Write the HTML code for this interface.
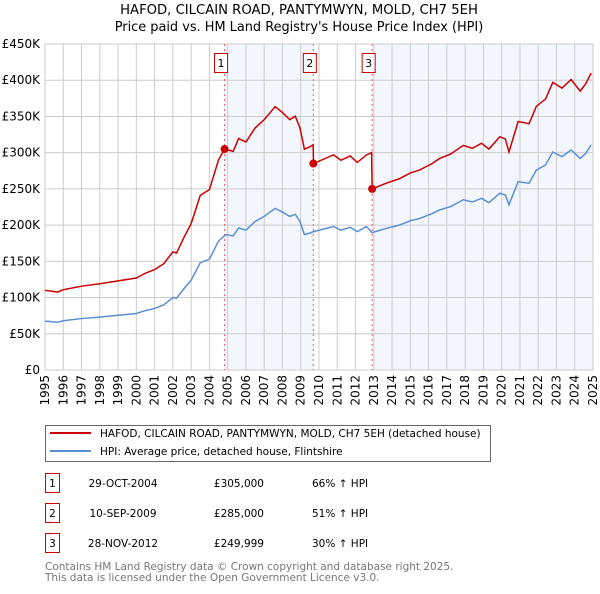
<!DOCTYPE html>
<html><head><meta charset="utf-8"><style>
body{margin:0;background:#fff;width:600px;height:590px;overflow:hidden;font-family:"DejaVu Sans","Liberation Sans",sans-serif;}
svg text{font-family:"DejaVu Sans","Liberation Sans",sans-serif;}
</style></head><body>
<svg id="chart" width="600" height="590" xmlns="http://www.w3.org/2000/svg">
<text x="299" y="14" text-anchor="middle" font-size="13.2">HAFOD, CILCAIN ROAD, PANTYMWYN, MOLD, CH7 5EH</text>
<text x="299" y="31" text-anchor="middle" font-size="12.9">Price paid vs. HM Land Registry's House Price Index (HPI)</text>
<g id="plot"></g>
<g>
<rect x="45.5" y="425.5" width="445" height="36" fill="#fff" stroke="#666"/>
<line x1="50" y1="433" x2="91" y2="433" stroke="#cc0000" stroke-width="2"/>
<text x="100" y="437" font-size="10.5">HAFOD, CILCAIN ROAD, PANTYMWYN, MOLD, CH7 5EH (detached house)</text>
<line x1="50" y1="451" x2="91" y2="451" stroke="#5b8fd4" stroke-width="2"/>
<text x="100" y="455" font-size="10.5">HPI: Average price, detached house, Flintshire</text>
</g>
<g id="table" font-size="10.5"></g>
<text x="45" y="570" font-size="10.5" fill="#777">Contains HM Land Registry data © Crown copyright and database right 2025.</text>
<text x="45" y="581" font-size="10.5" fill="#777">This data is licensed under the Open Government Licence v3.0.</text>
</svg>
<script>
const hpiYears=[1995.0,1995.7,1996.0,1997,1998,1999,2000,2000.5,2001,2001.5,2002,2002.2,2002.6,2003,2003.5,2004,2004.5,2004.9,2005.3,2005.6,2006,2006.5,2007,2007.6,2008,2008.4,2008.7,2008.96,2009.2,2009.5,2009.7,2010.8,2011.2,2011.7,2012.1,2012.6,2012.9,2013.7,2014.4,2015,2015.5,2016.2,2016.6,2017.2,2017.9,2018.4,2018.9,2019.3,2019.9,2020.2,2020.4,2020.9,2021.5,2021.9,2022.4,2022.8,2023.3,2023.8,2024.3,2024.6,2024.9];
const hpiValues=[67.5,66,68,71,73,75.5,78,82,85,90,100,99,112,124,148,153,178,187,185,196,193,205,212,223,218,212,215,205,187,189,191,198,193,197,191,198,189.6,195.6,200,206,209,216,221,225.5,235,232,237,231,244,241.6,228,260,257.7,276,283,301,294.5,303.7,292,299,310.6];
const priceYears=[1995.0,1995.7,1996.0,1997,1998,1999,2000,2000.5,2001,2001.5,2002,2002.2,2002.6,2003,2003.5,2004,2004.5,2004.83,2005.3,2005.6,2006,2006.5,2007,2007.6,2008,2008.4,2008.7,2008.96,2009.2,2009.5,2009.68,2009.7,2010.8,2011.2,2011.7,2012.1,2012.6,2012.88,2012.91,2013.7,2014.4,2015,2015.5,2016.2,2016.6,2017.2,2017.9,2018.4,2018.9,2019.3,2019.9,2020.2,2020.4,2020.9,2021.5,2021.9,2022.4,2022.8,2023.3,2023.8,2024.3,2024.6,2024.9];
const priceValues=[110,107.6,110.8,115.7,119,123,127,133.7,138.6,146.7,163,161.4,182.6,202,241,249,290,305,301.6,319.5,314.6,334,345.6,363.5,355.3,345.6,350.5,334,304.8,308,311,285,297,289.5,295.5,286.5,297,300,250,258,264,272,276,285,292,298,310,306,313,305,322,319,301,343,340,364,374,397,389,401,385,395,410];
const saleYears=[2004.83,2009.69,2012.91];
const salePrices=[305,285,250];
const saleLabels=["1","2","3"];
const saleDates=["29-OCT-2004","10-SEP-2009","28-NOV-2012"];
const salePriceText=["£305,000","£285,000","£249,999"];
const saleHpiText=["66% ↑ HPI","51% ↑ HPI","30% ↑ HPI"];
const yTicks=[0,50,100,150,200,250,300,350,400,450];
const yTickLabels=["£0","£50K","£100K","£150K","£200K","£250K","£300K","£350K","£400K","£450K"];
const xTicks=[1995,1996,1997,1998,1999,2000,2001,2002,2003,2004,2005,2006,2007,2008,2009,2010,2011,2012,2013,2014,2015,2016,2017,2018,2019,2020,2021,2022,2023,2024,2025];

const NS="http://www.w3.org/2000/svg";
const X0=45,X1=593,Y0=370,Y1=44;
const xs=y=>X0+(y-1995)/30*(X1-X0);
const ys=v=>Y0-v/450*(Y0-Y1);
const plot=document.getElementById('plot');
function mk(tag,attrs,parent){const e=document.createElementNS(NS,tag);for(const k in attrs)e.setAttribute(k,attrs[k]);(parent||plot).appendChild(e);return e;}
const sh1=mk('rect',{x:xs(saleYears[0]),y:Y1,width:xs(saleYears[1])-xs(saleYears[0]),height:Y0-Y1,fill:'#eef2fc',opacity:0.7});


const sh2=mk('rect',{x:xs(saleYears[2]),y:Y1,width:X1-xs(saleYears[2]),height:Y0-Y1,fill:'#eef2fc',opacity:0.7});


yTicks.forEach((t,i)=>{
  const l=mk('line',{x1:X0,x2:X1,y1:ys(t),y2:ys(t),stroke:'#cccccc','stroke-width':1});
  
  
  const tx=mk('text',{x:X0-5,y:ys(t)+4,'text-anchor':'end','font-size':12});
  tx.textContent=yTickLabels[i];
  
  
});
xTicks.forEach(t=>{
  const l=mk('line',{x1:xs(t),x2:xs(t),y1:Y1,y2:Y0,stroke:'#cccccc','stroke-width':1});
  
  
  const tx=mk('text',{x:0,y:0,'font-size':12,'text-anchor':'end',transform:`translate(${xs(t)+4},375) rotate(-90)`});
  tx.textContent=t;
  
  
});
const fr=mk('rect',{x:X0,y:Y1,width:X1-X0,height:Y0-Y1,fill:'none',stroke:'#cccccc'});


saleYears.forEach((s,i)=>{
  const l=mk('line',{x1:xs(s),x2:xs(s),y1:Y1,y2:Y0,stroke:'#e06060','stroke-width':1,'stroke-dasharray':'2,3'});
  
  
  const b=mk('rect',{x:xs(s)-10,y:53.5,width:13,height:19,fill:'#fff',stroke:'#cc0000'});
  
  
  const t=mk('text',{x:xs(s)-3.5,y:67,'text-anchor':'middle','font-size':11});
  t.textContent=saleLabels[i];
  
  
});
const hp=mk('polyline',{points:hpiYears.map((y,i)=>xs(y)+','+ys(hpiValues[i])).join(' '),fill:'none',stroke:'#5b8fd4','stroke-width':1.5});


const pp=mk('polyline',{points:priceYears.map((y,i)=>xs(y)+','+ys(priceValues[i])).join(' '),fill:'none',stroke:'#cc0000','stroke-width':1.5});


saleYears.forEach((s,i)=>{
  const c=mk('circle',{cx:xs(s),cy:ys(salePrices[i]),r:4,fill:'#cc0000'});
  
  
});
const tb=document.getElementById('table');
saleYears.forEach((s,i)=>{
  const cy=483+i*30;
  const b=mk('rect',{x:45.5,y:cy-9.5,width:14,height:19,fill:'#fff',stroke:'#cc0000'},tb);
  
  
  const cells=[[52.5,saleLabels[i],'middle','table-marker-label'],[123,saleDates[i],'middle','table-date'],[264,salePriceText[i],'end','table-price'],[312,saleHpiText[i],'start','table-hpi-change']];
  cells.forEach(c=>{
    const t=mk('text',{x:c[0],y:cy+4,'text-anchor':c[2]},tb);
    t.textContent=c[1];
    
    
  });
});
</script>
</body></html>
